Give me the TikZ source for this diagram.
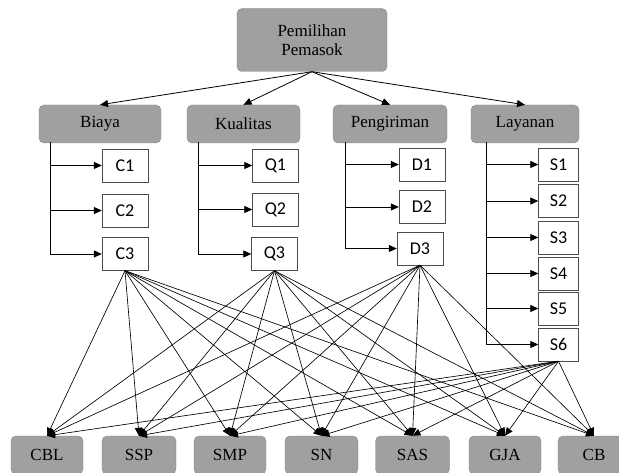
\documentclass[tikz,border=0pt]{standalone}
\usepackage{fontspec}
\setmainfont{Liberation Serif}
\newfontfamily\subfont{Carlito}
\usetikzlibrary{arrows.meta}
\definecolor{boxgray}{RGB}{160,160,160}
\definecolor{edgegray}{RGB}{135,135,135}

\begin{document}
\begin{tikzpicture}[x=1pt,y=-1pt,
  head/.style={draw=edgegray, fill=boxgray, rounded corners=5pt, minimum height=38pt, inner sep=0pt, font=\fontsize{17}{19}\selectfont},
  sub/.style={draw=black!70, fill=white, minimum width=46pt, minimum height=33pt, inner sep=0pt, font=\subfont\fontsize{18}{20}\selectfont},
  tip/.style={-{Triangle[length=8pt,width=7pt]}, line width=0.8pt},
  link/.style={-{Triangle[length=8pt,width=7pt]}, line width=0.65pt}]
\clip (0,0) rectangle (619,473);

% goal and criteria
\node [head, minimum width=150pt, minimum height=63pt, align=center] (top) at (312,40) {Pemilihan\\Pemasok};
\node [head, minimum width=122pt] (biaya) at (100,124) {Biaya};
\node [head, minimum width=113pt] (kualitas) at (243.5,124) {Kualitas};
\node [head, minimum width=114pt] (kirim) at (390,124) {Pengiriman};
\node [head, minimum width=108pt] (layanan) at (525,124) {Layanan};
\foreach \c in {biaya,kualitas,kirim,layanan}
  \draw [tip] (top.south) -- (\c.north);

% sub-criteria
\node [sub] (C1) at (125,165.5) {C1};
\node [sub] (C2) at (125,210.5) {C2};
\node [sub] (C3) at (125,254) {C3};
\node [sub] (Q1) at (275.5,165.5) {Q1};
\node [sub] (Q2) at (275.5,209.5) {Q2};
\node [sub] (Q3) at (274.5,254) {Q3};
\node [sub] (D1) at (422,164.5) {D1};
\node [sub] (D2) at (422,207) {D2};
\node [sub] (D3) at (420,248.5) {D3};
\node [sub, minimum width=40pt] (S1) at (558.5,164.5) {S1};
\node [sub, minimum width=40pt] (S2) at (558.5,201) {S2};
\node [sub, minimum width=40pt] (S3) at (558.5,237.5) {S3};
\node [sub, minimum width=40pt] (S4) at (558.5,273.5) {S4};
\node [sub, minimum width=40pt] (S5) at (558.5,308.5) {S5};
\node [sub, minimum width=40pt] (S6) at (558.5,344.5) {S6};

% trunks
\coordinate (cb) at (50,142);
\coordinate (cq) at (198,142);
\coordinate (cd) at (345,142);
\coordinate (cs) at (486,142);
\draw [tip] (cb) |- (C3);
\foreach \n in {C1,C2} \draw [tip] (cb |- \n) -- (\n);
\draw [tip] (cq) |- (Q3);
\foreach \n in {Q1,Q2} \draw [tip] (cq |- \n) -- (\n);
\draw [tip] (cd) |- (D3);
\foreach \n in {D1,D2} \draw [tip] (cd |- \n) -- (\n);
\draw [tip] (cs) |- (S6);
\foreach \n in {S1,S2,S3,S4,S5} \draw [tip] (cs |- \n) -- (\n);

% alternatives
\node [head, minimum width=72pt] (CBL) at (47,455) {CBL};
\node [head, minimum width=74pt] (SSP) at (139,455) {SSP};
\node [head, minimum width=72pt] (SMP) at (230,455) {SMP};
\node [head, minimum width=73pt] (SN) at (321.5,455) {SN};
\node [head, minimum width=74pt] (SAS) at (412.5,455) {SAS};
\node [head, minimum width=72pt] (GJA) at (505,455) {GJA};
\node [head, minimum width=72pt] (CB) at (594,455) {CB};
\foreach \s in {C3,Q3,D3,S6}
  \foreach \a in {CBL,SSP,SMP,SN,SAS,GJA,CB}
    \draw [link] (\s.south) -- (\a.north);
\end{tikzpicture}
\end{document}
